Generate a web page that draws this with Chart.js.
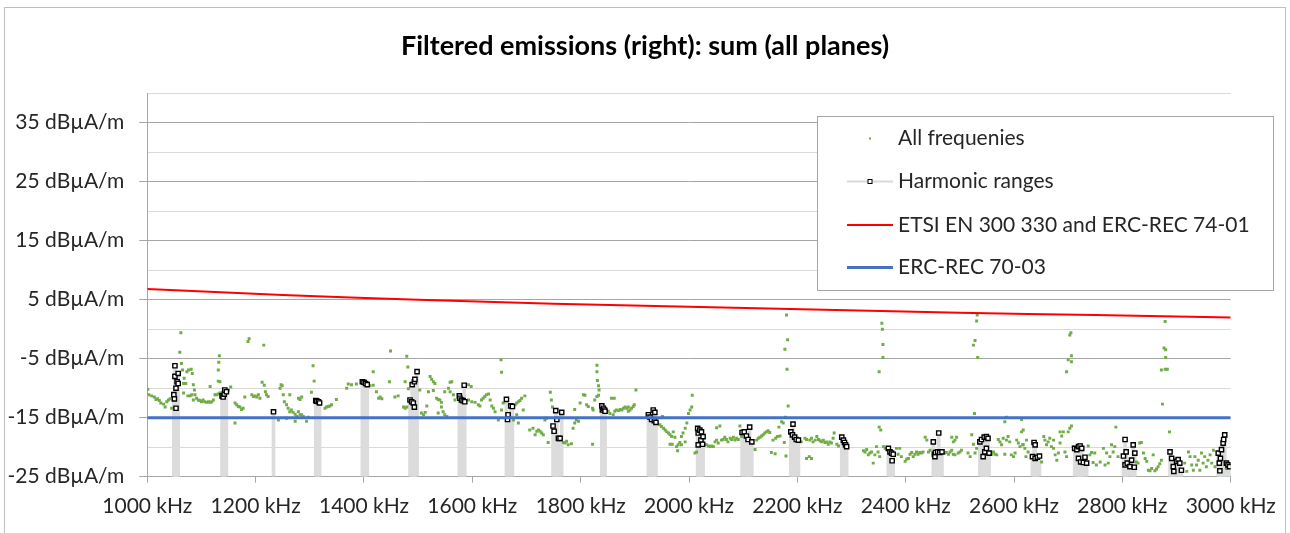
<!DOCTYPE html>
<html>
<head>
<meta charset="utf-8">
<title>Filtered emissions (right): sum (all planes)</title>
<script src="https://cdn.jsdelivr.net/npm/chart.js@4.4.1/dist/chart.umd.min.js"></script>
<style>
  html, body { margin: 0; padding: 0; background: #fff; }
  canvas { display: block; }
</style>
</head>
<body>
<canvas id="chart" width="1290" height="533"></canvas>
<script>
// Frequency axis ticks (kHz) and level axis range (dBµA/m)
const freqTicks = [1000, 1200, 1400, 1600, 1800, 2000, 2200, 2400, 2600, 2800, 3000];
const levelMin = -25;
const levelMax = 40;
const levelStep = 5;

// Limit lines: [frequency kHz] with level in dBµA/m
const limitFreq = [1000, 1250, 1500, 1750, 2000, 2250, 2500, 2750, 3000];
const etsiLimit = [6.8, 5.8, 5.0, 4.3, 3.8, 3.3, 2.8, 2.4, 2.0];
const ercLimit  = [-15, -15, -15, -15, -15, -15, -15, -15, -15];

// Filtered emission at every measured frequency: [kHz, dBµA/m]
const allFrequencies = [
  [1001,-10.2],[1003,-11.1],[1008,-11.3],[1013,-11.5],[1016,-11.9],[1019,-11.8],[1022,-12.1],[1025,-12.5],[1030,-12.7],[1033,-13.2],[1036,-12.3],[1039,-12.0],[1042,-11.8],[1045,-13.4],[1048,-12.0],
  [1062,-0.6],[1060,-3.9],[1063,-5.8],[1065,-6.9],[1068,-8.3],[1067,-9.2],[1071,-9.2],[1073,-7.2],[1076,-6.9],[1081,-6.8],[1083,-7.5],[1085,-9.4],[1087,-10.3],[1067,-10.8],[1075,-11.3],[1079,-11.3],[1082,-11.1],[1088,-11.1],[1085,-12.0],[1091,-11.7],[1094,-12.0],[1097,-12.1],[1100,-12.3],[1103,-12.0],[1106,-12.3],[1110,-12.4],[1113,-12.3],[1116,-12.4],[1119,-12.3],[1122,-12.0],[1125,-11.1],[1128,-11.1],[1131,-11.0],[1134,-10.8],[1116,-9.7],[1131,-6.9],[1132,-5.6],[1133,-4.5],[1131,-8.8],[1134,-8.9],
  [1150,-10.3],[1154,-9.8],[1162,-12.5],[1165,-12.8],[1168,-13.1],[1171,-13.2],[1174,-13.6],[1177,-13.4],[1162,-15.9],[1180,-11.5],[1186,-2.1],[1188,-1.6],[1215,-2.7],[1193,-11.1],[1196,-11.4],[1199,-11.3],[1202,-11.5],[1205,-11.1],[1208,-11.7],[1212,-9.0],[1216,-9.5],[1218,-10.6],[1220,-11.1],[1223,-11.4],
  [1242,-15.4],[1245,-10.0],[1247,-9.4],[1249,-9.6],[1251,-11.1],[1253,-12.3],[1257,-12.8],[1260,-13.4],[1263,-14.0],[1266,-13.7],[1269,-14.1],[1273,-14.4],[1276,-14.8],[1279,-14.0],[1282,-14.5],[1285,-14.5],[1288,-14.8],[1294,-15.6],[1297,-14.9],[1263,-11.1],[1279,-11.7],[1282,-11.9],[1285,-11.5],[1257,-15.1],[1273,-15.6],[1303,-10.7],[1306,-6.2],[1308,-8.8],
  [1328,-13.4],[1331,-13.2],[1334,-13.1],[1337,-13.0],[1340,-12.8],[1349,-11.9],[1368,-10.0],[1371,-9.3],[1377,-9.4],[1386,-9.3],
  [1411,-9.6],[1417,-9.5],[1417,-7.2],[1423,-10.6],[1427,-11.7],[1430,-11.5],[1433,-11.8],[1447,-8.9],[1449,-3.7],[1457,-11.5],[1463,-11.3],[1476,-8.9],[1479,-4.6],[1481,-6.4],[1482,-10.1],[1473,-13.2],[1476,-13.4],[1479,-13.2],
  [1503,-10.3],[1506,-14.2],[1510,-14.5],[1513,-14.1],[1516,-13.0],[1519,-10.6],[1522,-8.0],[1525,-8.5],[1528,-8.9],[1531,-9.2],[1528,-10.4],[1534,-11.7],[1537,-11.9],[1540,-12.0],[1543,-13.2],[1546,-14.0],[1549,-14.5],[1553,-14.8],[1556,-10.0],[1559,-9.0],[1562,-8.9],[1559,-10.6],[1549,-10.6],[1565,-11.1],[1568,-12.0],[1543,-12.4],[1537,-14.2],
  [1593,-9.4],[1598,-9.7],[1593,-12.0],[1599,-12.3],[1605,-12.4],[1611,-12.8],[1614,-13.0],[1617,-12.0],[1620,-11.7],[1623,-11.4],[1626,-11.1],[1630,-11.0],[1633,-12.0],[1636,-13.0],[1639,-13.4],[1642,-14.0],[1648,-15.4],[1653,-5.2],[1654,-7.3],[1657,-12.5],[1654,-13.7],
  [1679,-12.8],[1682,-12.5],[1685,-12.3],[1688,-12.1],[1691,-11.7],[1694,-13.7],[1697,-11.3],[1682,-14.5],[1685,-15.9],[1676,-15.4],
  [1706,-17.1],[1712,-16.8],[1716,-17.9],[1719,-17.3],[1722,-17.1],[1725,-17.3],[1728,-17.6],[1731,-17.9],[1734,-15.4],[1737,-15.1],[1740,-19.2],[1744,-10.7],[1746,-12.0],[1748,-13.2],
  [1768,-19.2],[1771,-19.3],[1777,-19.6],[1783,-19.4],[1774,-19.0],[1786,-16.8],[1789,-15.9],[1792,-15.4],[1796,-15.6],[1789,-13.6],[1799,-12.5],[1805,-11.1],
  [1808,-11.2],[1811,-12.8],[1814,-13.1],[1822,-13.4],[1823,-13.7],[1826,-12.0],[1830,-11.4],[1833,-11.2],[1830,-6.1],[1830,-7.2],[1831,-8.7],[1833,-9.6],[1834,-10.3],[1822,-19.5],
  [1851,-13.9],[1854,-14.3],[1857,-11.7],[1862,-11.7],[1860,-14.5],[1863,-13.9],[1866,-13.7],[1870,-13.8],[1873,-13.6],[1876,-13.7],[1879,-13.4],[1882,-13.2],[1885,-13.4],[1888,-13.2],[1891,-13.7],[1894,-13.4],[1897,-13.1],[1899,-12.8],[1902,-10.3],[1888,-13.9],
  [1942,-15.9],[1946,-16.2],[1951,-14.8],[1949,-16.5],[1953,-16.8],[1956,-17.1],[1959,-17.4],[1962,-17.6],[1965,-17.9],[1968,-18.2],[1971,-17.4],[1974,-18.3],[1965,-19.5],[1969,-19.5],[1977,-19.9],[1980,-19.6],[1983,-19.2],[1986,-18.2],[1989,-17.6],[1993,-16.8],[1996,-15.9],[1999,-14.3],[2002,-13.7],[2005,-13.2],[2006,-11.2],[1986,-19.6],[1993,-19.1],[1979,-20.6],[2011,-21.0],[2014,-20.8],
  [2029,-19.5],[2032,-19.6],[2036,-19.8],[2039,-19.9],[2042,-19.8],[2045,-19.9],[2048,-19.1],[2051,-18.8],[2054,-19.3],[2057,-16.4],[2051,-16.7],[2060,-18.8],[2063,-18.7],[2066,-18.3],[2069,-18.7],[2072,-19.1],[2076,-18.5],[2079,-18.7],[2082,-18.3],[2085,-18.8],[2088,-18.5],[2091,-18.7],[2094,-16.4],[2097,-18.2],
  [2122,-20.4],[2125,-18.8],[2128,-18.5],[2131,-18.3],[2134,-18.1],[2137,-17.9],[2140,-17.6],[2143,-17.4],[2146,-17.2],[2149,-17.5],[2152,-20.9],[2159,-21.1],[2155,-18.8],[2160,-18.5],[2163,-18.2],[2166,-16.6],[2168,-18.1],[2171,-15.7],[2174,-15.9],[2176,-19.2],[2179,-21.5],
  [2180,2.4],[2182,-1.8],[2177,-3.4],[2181,-6.8],[2183,-13.0],[2178,-14.9],[2207,-19.1],
  [2214,-18.5],[2217,-18.7],[2223,-18.8],[2226,-18.5],[2229,-19.1],[2233,-18.8],[2236,-18.2],[2239,-18.7],[2242,-18.9],[2245,-19.1],[2248,-18.8],[2251,-19.2],[2254,-19.1],[2257,-19.5],[2260,-19.1],[2263,-19.3],[2266,-18.5],[2268,-17.6],[2273,-19.5],[2276,-19.8],[2217,-21.9],[2222,-21.6],[2226,-21.9],
  [2322,-20.6],[2325,-20.8],[2328,-20.4],[2331,-21.3],[2334,-21.0],[2337,-20.8],[2340,-22.7],[2343,-21.3],[2346,-19.9],[2349,-20.8],[2352,-21.6],[2359,-19.9],[2362,-20.2],[2351,-16.6],[2354,-17.1],
  [2356,1.0],[2357,0.0],[2358,-2.6],[2358,-4.8],[2351,-7.2],
  [2383,-20.2],[2386,-21.2],[2389,-20.2],[2392,-21.6],[2399,-22.4],[2402,-22.0],[2405,-21.9],[2408,-21.2],[2411,-20.9],[2414,-21.6],[2417,-21.2],[2420,-20.8],[2423,-21.2],[2426,-20.9],[2429,-21.0],[2432,-20.8],[2436,-18.3],[2439,-18.8],[2442,-20.8],[2445,-20.5],
  [2472,-21.0],[2475,-20.9],[2479,-21.2],[2482,-20.8],[2485,-18.3],[2488,-19.1],[2491,-18.8],[2494,-18.3],[2497,-21.0],[2500,-20.8],[2503,-20.5],[2485,-20.5],[2488,-21.2],[2491,-21.3],[2515,-21.0],[2519,-21.6],[2522,-17.9],[2525,-19.5],[2528,-21.0],[2531,-20.2],
  [2532,2.4],[2531,1.4],[2528,-1.9],[2525,-2.7],[2533,-4.8],[2527,-14.3],
  [2559,-21.2],[2562,-20.8],[2565,-21.2],[2568,-21.3],[2571,-18.7],[2574,-19.1],[2577,-19.6],[2580,-18.5],[2583,-15.7],[2586,-14.9],[2586,-18.8],[2589,-18.2],[2592,-19.1],[2595,-21.3],[2599,-21.6],[2602,-21.0],[2605,-18.8],[2608,-19.3],[2611,-19.9],[2614,-17.4],[2617,-19.6],[2583,-21.2],
  [2614,-15.3],[2617,-17.1],[2616,-19.6],[2620,-20.2],[2623,-18.8],[2626,-20.8],[2622,-21.6],
  [2651,-22.5],[2655,-18.2],[2657,-18.8],[2660,-19.6],[2663,-19.1],[2666,-18.5],[2669,-19.9],[2673,-20.2],[2673,-18.8],[2676,-21.3],[2679,-22.2],[2682,-21.0],[2685,-19.3],[2688,-18.1],[2691,-17.4],[2694,-20.8],[2697,-21.6],[2700,-17.4],[2703,-16.8],[2706,-16.4],[2709,-19.9],[2685,-17.4],
  [2703,-1.0],[2705,-0.6],[2706,-4.5],[2700,-5.2],[2706,-5.5],[2697,-7.2],
  [2737,-19.8],[2740,-21.3],[2743,-20.9],[2746,-22.6],[2749,-21.0],[2752,-23.0],[2759,-22.5],[2765,-20.2],[2768,-23.0],[2771,-21.0],[2774,-22.7],[2777,-21.6],[2780,-19.6],[2783,-20.8],[2786,-19.9],[2788,-16.6],[2792,-21.6],
  [2826,-22.5],[2829,-22.7],[2832,-19.3],[2835,-19.2],[2839,-21.0],[2842,-21.9],[2845,-22.4],[2848,-23.9],[2851,-24.0],[2854,-23.6],[2857,-21.3],[2860,-24.0],[2863,-23.7],[2866,-23.3],[2869,-22.8],[2872,-22.2],[2874,-12.7],[2877,-3.2],[2880,-3.5],[2880,-4.8],[2872,-6.9],[2879,-6.8],[2883,-6.8],[2879,1.3],[2887,-17.4],
  [2915,-22.7],[2919,-24.1],[2922,-20.8],[2925,-21.6],[2928,-23.0],[2931,-23.9],[2934,-21.6],[2937,-23.0],[2940,-22.2],[2943,-23.9],[2946,-21.0],[2949,-22.7],[2952,-21.6],[2955,-23.3],[2958,-22.2],[2962,-21.3],[2965,-22.7],[2968,-20.5],[2971,-23.3],[2992,-23.6]
];

// Emission inside the harmonic ranges: [kHz, dBµA/m]
const harmonicRanges = [
  [1049,-11.1],[1050,-11.8],[1051,-6.2],[1051,-8.0],[1053,-10.0],[1053,-13.4],[1055,-8.9],[1057,-7.5],[1057,-9.2],
  [1138,-11.3],[1140,-11.5],[1142,-11.0],[1143,-10.3],[1146,-10.6],
  [1233,-14.0],
  [1311,-12.1],[1313,-12.2],[1316,-12.3],[1318,-12.5],
  [1397,-8.9],[1400,-9.0],[1403,-9.2],[1406,-9.4],
  [1485,-12.0],[1488,-12.3],[1491,-12.5],[1493,-13.2],[1489,-9.4],[1493,-8.9],[1494,-8.5],[1498,-7.2],
  [1576,-11.3],[1577,-11.7],[1580,-12.0],[1583,-12.1],[1585,-9.5],[1586,-12.3],
  [1663,-11.9],[1665,-15.3],[1666,-14.5],[1671,-13.0],[1674,-13.1],
  [1749,-16.4],[1751,-17.3],[1754,-13.8],[1756,-15.3],[1759,-18.5],[1762,-18.5],[1765,-14.1],
  [1839,-13.0],[1840,-13.7],[1842,-13.4],[1844,-13.7],[1845,-13.9],
  [1925,-14.5],[1928,-14.9],[1931,-15.3],[1934,-13.7],[1936,-15.5],[1937,-14.1],[1939,-15.8],
  [2016,-16.8],[2017,-17.6],[2017,-19.6],[2020,-17.1],[2022,-18.8],[2023,-17.4],[2025,-19.5],[2026,-18.2],
  [2098,-17.5],[2102,-17.4],[2106,-18.1],[2109,-18.7],[2112,-16.6],[2116,-19.1],
  [2188,-17.4],[2191,-17.9],[2192,-16.1],[2195,-18.3],[2198,-18.7],[2202,-18.8],
  [2282,-18.3],[2285,-18.8],[2287,-19.2],[2289,-19.6],[2291,-19.9],
  [2368,-20.2],[2371,-20.8],[2374,-21.0],[2375,-22.3],[2377,-21.2],
  [2451,-19.1],[2453,-21.2],[2454,-21.6],[2455,-20.9],[2459,-20.8],[2461,-17.6],[2463,-20.9],[2467,-20.8],
  [2537,-19.1],[2540,-18.7],[2543,-21.6],[2545,-18.3],[2546,-20.8],[2549,-18.2],[2549,-20.2],[2552,-18.5],[2554,-21.0],
  [2634,-21.6],[2637,-19.2],[2639,-19.6],[2639,-21.9],[2643,-21.7],[2647,-21.5],
  [2712,-20.2],[2716,-20.4],[2719,-19.9],[2719,-21.9],[2722,-19.8],[2723,-22.5],[2725,-20.2],[2728,-22.6],[2731,-21.7],[2734,-22.7],
  [2802,-21.5],[2805,-18.7],[2805,-23.0],[2807,-20.8],[2809,-22.7],[2814,-23.3],[2817,-22.2],[2820,-19.6],[2822,-23.4],[2823,-21.0],
  [2888,-20.8],[2891,-21.9],[2894,-23.3],[2895,-24.1],[2900,-22.4],[2903,-22.1],[2906,-22.7],[2909,-23.9],
  [2977,-21.0],[2979,-22.7],[2980,-24.0],[2981,-21.9],[2983,-20.4],[2986,-19.3],[2987,-18.7],[2989,-17.9],[2992,-22.7],[2995,-23.0],[2998,-23.3]
];

const FONT = 'Lato, "Open Sans", "Liberation Sans", sans-serif';
const TEXT_COLOR = '#262626';
const AXIS_COLOR = '#a6a6a6';
const LABEL_SIZE = 21;
const RIGHT_GAP = 59.3;

const toXY = (pairs) => pairs.map(([f, v]) => ({ x: f, y: v }));
const labelled = (v) => (v - levelMin) % 10 === 0 && v < levelMax;

// White background and the thin frame around the whole chart
const chartFrame = {
  id: 'chartFrame',
  beforeDraw(chart) {
    const c = chart.ctx;
    c.save();
    c.fillStyle = '#ffffff';
    c.fillRect(0, 0, chart.width, chart.height);
    c.strokeStyle = '#bfbfbf';
    c.lineWidth = 1;
    c.strokeRect(4.5, 7.5, chart.width - 9, chart.height + 20);
    c.restore();
  }
};

// Boxed legend placed in the upper right of the plot area
const boxedLegend = {
  id: 'boxedLegend',
  afterDraw(chart) {
    const c = chart.ctx;
    const box = { x: 817.5, y: 116.5, w: 456, h: 174 };
    const rowY = [138.5, 181.5, 225, 267.5];
    const symL = 847, symR = 893, symC = 870, textX = 898;
    c.save();
    c.fillStyle = '#ffffff';
    c.fillRect(box.x, box.y, box.w, box.h);
    c.strokeStyle = AXIS_COLOR;
    c.lineWidth = 1;
    c.strokeRect(box.x, box.y, box.w, box.h);
    const entries = chart.data.datasets.filter(d => d.type !== 'bar');
    entries.forEach((ds, i) => {
      const y = rowY[i];
      if (ds.legendSymbol === 'dot') {
        c.fillStyle = ds.backgroundColor;
        c.fillRect(symC - 1, y - 1, 2, 2);
      } else if (ds.legendSymbol === 'marker') {
        c.strokeStyle = '#d9d9d9';
        c.lineWidth = 2;
        c.beginPath(); c.moveTo(symL, y); c.lineTo(symR, y); c.stroke();
        c.fillStyle = '#ffffff';
        c.fillRect(symC - 2, y - 2, 4, 4);
        c.strokeStyle = '#000000';
        c.lineWidth = 1;
        c.strokeRect(symC - 2, y - 2, 4, 4);
      } else {
        c.strokeStyle = ds.borderColor;
        c.lineWidth = ds.borderWidth;
        c.beginPath(); c.moveTo(symL, y); c.lineTo(symR, y); c.stroke();
      }
      c.fillStyle = TEXT_COLOR;
      c.font = LABEL_SIZE + 'px ' + FONT;
      c.textAlign = 'left';
      c.textBaseline = 'middle';
      c.fillText(ds.label, textX, y);
    });
    c.restore();
  }
};

new Chart(document.getElementById('chart'), {
  type: 'scatter',
  data: {
    datasets: [
      {
        label: 'All frequenies',
        type: 'scatter',
        legendSymbol: 'dot',
        data: toXY(allFrequencies),
        pointStyle: 'rect',
        pointRadius: 2.1,
        pointBorderWidth: 0,
        backgroundColor: '#70ad47',
        borderColor: '#70ad47',
        order: 4
      },
      {
        label: 'Harmonic ranges',
        type: 'scatter',
        legendSymbol: 'marker',
        data: toXY(harmonicRanges),
        pointStyle: 'rect',
        pointRadius: 3,
        pointBorderWidth: 1.4,
        pointBorderColor: '#000000',
        pointBackgroundColor: '#ffffff',
        order: 3
      },
      {
        label: 'ETSI EN 300 330 and ERC-REC 74-01',
        type: 'line',
        data: limitFreq.map((f, i) => ({ x: f, y: etsiLimit[i] })),
        borderColor: '#ff0000',
        borderWidth: 2,
        pointRadius: 0,
        tension: 0.3,
        fill: false,
        order: 2
      },
      {
        label: 'ERC-REC 70-03',
        type: 'line',
        data: limitFreq.map((f, i) => ({ x: f, y: ercLimit[i] })),
        borderColor: '#4472c4',
        borderWidth: 3,
        pointRadius: 0,
        fill: false,
        order: 1
      },
      {
        label: 'Harmonic ranges (span)',
        type: 'bar',
        data: toXY(harmonicRanges),
        base: levelMin,
        barThickness: 3,
        backgroundColor: '#dcdcdc',
        borderWidth: 0,
        order: 5
      }
    ]
  },
  options: {
    responsive: false,
    animation: false,
    devicePixelRatio: 1,
    layout: { padding: 0 },
    plugins: {
      legend: { display: false },
      tooltip: { enabled: false },
      title: {
        display: true,
        text: 'Filtered emissions (right): sum (all planes)',
        color: '#000000',
        font: { family: FONT, size: 27, weight: 'bold', lineHeight: 1.2 },
        padding: { top: 29.8, bottom: 31 }
      }
    },
    scales: {
      x: {
        type: 'linear',
        min: freqTicks[0],
        max: freqTicks[freqTicks.length - 1],
        offset: false,
        afterBuildTicks: (scale) => { scale.ticks = freqTicks.map(v => ({ value: v })); },
        afterFit: (scale) => { scale.height = 56.3; scale.paddingRight = RIGHT_GAP; },
        ticks: {
          callback: (v) => v + ' kHz',
          color: TEXT_COLOR,
          font: { family: FONT, size: LABEL_SIZE },
          padding: 11,
          maxRotation: 0,
          autoSkip: false
        },
        grid: {
          offset: false,
          drawOnChartArea: false,
          drawTicks: true,
          tickLength: 6,
          color: AXIS_COLOR
        },
        border: { display: true, color: AXIS_COLOR, width: 1 }
      },
      y: {
        type: 'linear',
        min: levelMin,
        max: levelMax,
        afterFit: (scale) => { scale.width = 147.3; },
        ticks: {
          stepSize: levelStep,
          autoSkip: false,
          callback: (v) => labelled(v) ? v + ' dBµA/m' : '',
          color: TEXT_COLOR,
          font: { family: FONT, size: LABEL_SIZE },
          padding: 15
        },
        grid: {
          drawTicks: true,
          tickLength: 8,
          color: (ctx) => (ctx.tick && labelled(ctx.tick.value)) ? AXIS_COLOR : '#d9d9d9',
          tickColor: (ctx) => (ctx.tick && labelled(ctx.tick.value)) ? AXIS_COLOR : 'rgba(0,0,0,0)'
        },
        border: { display: true, color: AXIS_COLOR, width: 1 }
      }
    }
  },
  plugins: [chartFrame, boxedLegend]
});
</script>
</body>
</html>
